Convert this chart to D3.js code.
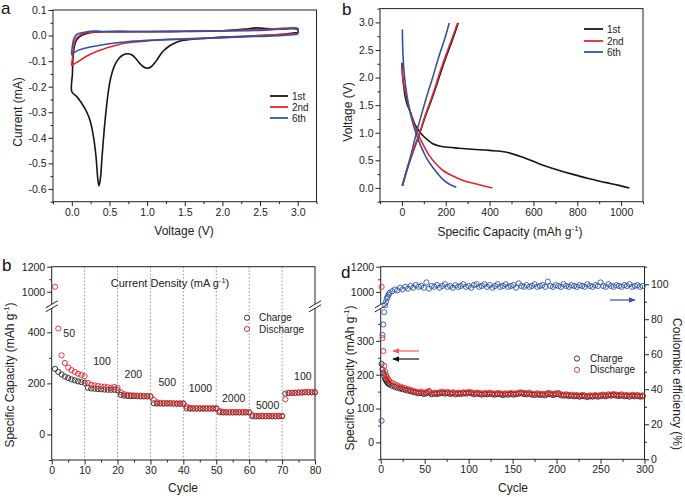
<!DOCTYPE html>
<html><head><meta charset="utf-8">
<script src="https://cdn.jsdelivr.net/npm/d3@7"></script>
<style>body{margin:0;background:#fff} text{font-family:"Liberation Sans",Arial,sans-serif}</style>
</head><body><svg id="c" width="685" height="497"></svg>
<script>
// ---------- Panel a: CV curves (voltage V, current mA) ----------
const cv1 = [[3.0,0.012],[2.8,0.005],[2.5,0.0],[2.2,-0.004],[2.0,-0.006],[1.8,-0.01],[1.6,-0.014],[1.5,-0.018],[1.4,-0.025],[1.3,-0.04],[1.2,-0.065],[1.12,-0.1],[1.05,-0.123],[1.0,-0.128],[0.95,-0.122],[0.9,-0.108],[0.85,-0.09],[0.8,-0.076],[0.74,-0.071],[0.68,-0.076],[0.63,-0.088],[0.58,-0.11],[0.54,-0.14],[0.5,-0.19],[0.46,-0.28],[0.43,-0.37],[0.4,-0.48],[0.38,-0.56],[0.36,-0.588],[0.345,-0.56],[0.32,-0.47],[0.29,-0.4],[0.25,-0.34],[0.2,-0.3],[0.12,-0.26],[0.06,-0.237],[0.0,-0.22],[0.008,-0.15],[0.02,-0.07],[0.05,-0.025],[0.1,-0.005],[0.2,0.008],[0.3,0.013],[0.5,0.015],[1.0,0.015],[1.5,0.016],[2.0,0.019],[2.3,0.025],[2.45,0.03],[2.6,0.027],[2.8,0.025],[3.0,0.028],[3.0,0.012]];
const cv2 = [[3.0,0.008],[2.5,0.0],[2.0,-0.008],[1.5,-0.014],[1.0,-0.021],[0.7,-0.03],[0.5,-0.045],[0.4,-0.055],[0.3,-0.066],[0.2,-0.08],[0.12,-0.095],[0.06,-0.106],[0.02,-0.113],[0.0,-0.117],[0.008,-0.09],[0.02,-0.05],[0.05,-0.015],[0.1,0.0],[0.15,0.008],[0.25,0.013],[0.5,0.016],[1.0,0.016],[1.5,0.017],[2.0,0.019],[2.5,0.023],[3.0,0.025],[3.0,0.008]];
const cv6 = [[3.0,0.005],[2.8,0.0],[2.5,-0.003],[2.0,-0.008],[1.5,-0.013],[1.0,-0.019],[0.7,-0.025],[0.5,-0.032],[0.3,-0.042],[0.2,-0.048],[0.1,-0.056],[0.04,-0.065],[0.0,-0.075],[0.008,-0.04],[0.03,-0.01],[0.07,0.005],[0.15,0.012],[0.28,0.018],[0.4,0.016],[1.0,0.016],[2.0,0.018],[2.5,0.02],[3.0,0.022],[3.0,0.005]];
const cvNames = ["1st","2nd","6th"];

// ---------- Panel b: charge/discharge profiles (capacity mAh/g, voltage V) ----------
const dis1 = [[0,2.27],[3,2.05],[8,1.85],[15,1.65],[25,1.5],[35,1.41],[45,1.3],[58,1.16],[75,1.05],[95,0.95],[120,0.86],[141,0.8],[170,0.76],[201,0.74],[260,0.72],[322,0.7],[400,0.68],[473,0.65],[549,0.56],[625,0.44],[700,0.34],[776,0.25],[850,0.17],[927,0.1],[985,0.05],[1038,0.0]];
const cha1 = [[2,0.04],[25,0.35],[50,0.65],[80,0.98],[107,1.3],[129,1.53],[153,1.8],[175,2.07],[204,2.4],[232,2.7],[257,2.99]];
const dis2 = [[0,2.2],[5,1.95],[12,1.8],[20,1.65],[35,1.42],[50,1.22],[65,1.06],[80,0.92],[100,0.76],[126,0.58],[150,0.46],[186,0.32],[230,0.22],[277,0.14],[340,0.07],[413,0.0]];
const cha2 = [[2,0.04],[25,0.35],[50,0.65],[80,0.98],[105,1.3],[126,1.53],[150,1.8],[171,2.07],[200,2.4],[228,2.7],[254,2.99]];
const dis6 = [[2,2.87],[5,2.4],[12,2.01],[22,1.7],[35,1.41],[50,1.17],[65,0.98],[80,0.82],[95,0.68],[115,0.52],[141,0.37],[165,0.25],[186,0.16],[215,0.07],[248,0.01]];
const cha6 = [[2,0.04],[20,0.3],[40,0.58],[65,0.98],[95,1.41],[118,1.72],[141,2.01],[170,2.4],[195,2.7],[216,2.99]];

// ---------- Panel b (lower left): rate capability ----------
const rateCycles = d3.range(1, 81);
const rateDischarge = [1040,415,310,280,262,252,245,238,233,228,
  202,195,192,190,188,187,185,183,186,183,
  165,158,155,154,153,152,152,151,151,150,
  135,126,124,123,123,123,122,122,122,122,
  110,104,103,103,103,103,103,103,103,103,
  93,89,88,88,88,88,88,88,88,87,
  76,73,73,73,73,73,73,73,73,73,
  138,163,163,164,164,165,166,166,166,165];
const rateCharge = [257,245,235,227,221,216,212,208,205,202,
  183,180,179,178,177,176,175,175,175,173,
  155,152,151,150,150,150,149,149,149,148,
  122,121,121,121,121,121,121,120,120,120,
  102,101,101,101,101,101,101,101,101,101,
  87,86,86,86,86,86,86,86,86,86,
  71,71,71,71,71,71,71,71,71,71,
  160,162,163,163,164,164,165,165,165,165];
const rateLabels = ["50","100","200","500","1000","2000","5000","100"];
const rateLabelCycle = [5.3,15.3,24.8,35.1,45.2,55.3,65.6,76.3];
const rateLabelCap = [396,287,236,205,182,143,115,229];

// ---------- Panel d: long cycling ----------
const longCycles = [1,2,3,4,5,6,7,8,9,10,
  13,16,19,22,25,28,31,34,37,40,
  43,46,49,52,55,58,61,64,67,70,
  73,76,79,82,85,88,91,94,97,100,
  103,106,109,112,115,118,121,124,127,130,
  133,136,139,142,145,148,151,154,157,160,
  163,166,169,172,175,178,181,184,187,190,
  193,196,199,202,205,208,211,214,217,220,
  223,226,229,232,235,238,241,244,247,250,
  253,256,259,262,265,268,271,274,277,280,
  283,286,289,292,295,298];
const longDischarge = [1040,308,270,226,210,200,193,188,184,180,
  176,172,168,165,162,160,157,155,152,150,
  148,150,146,149,152,145,147,146,148,150,
  147,149,146,148,145,147,146,148,147,149,
  148,145,147,146,144,146,145,147,145,144,
  146,145,143,145,144,146,144,145,147,148,
  146,145,147,144,143,145,143,144,142,146,
  145,143,145,146,142,141,142,140,141,139,
  140,138,140,139,137,139,138,140,138,140,
  141,139,142,141,143,141,140,142,139,140,
  138,141,139,140,138,139];
const longCharge = [232,215,205,196,188,183,179,176,173,171,
  167,164,161,159,157,155,153,151,149,147,
  145,146,143,145,148,142,144,143,145,146,
  144,146,143,145,142,144,143,145,144,146,
  145,142,144,143,141,143,142,144,142,141,
  143,142,140,142,141,143,141,142,144,145,
  143,142,144,141,140,142,140,141,139,143,
  142,140,142,143,139,138,139,137,138,136,
  137,135,137,136,134,136,135,137,135,137,
  138,136,139,138,140,138,137,139,136,137,
  135,138,136,137,135,136];
const longCE = [22,71,77,84,88,90,92,93,94,95,
  96,97,96.5,98,97,98.5,97.5,99,98,99.5,
  98.5,99,98,101,97.5,99,98.5,99.5,98,99,
  100,98.5,99,98,99.5,98.5,99,100,98.5,99,
  98,99.5,100,98.5,99,100,98.5,99.5,98,99,
  100,98.5,99,100,98.5,99,99.5,98,100.5,99,
  98.5,99.5,98.5,99,100,98.5,99,99.5,98.5,101.5,
  99,98.5,99.5,99,98.5,100,99,98.5,99.5,99,
  98.5,99.5,99,98.5,100,99,98.5,99.5,99,101,
  99,98.5,100,99,98.5,99.5,99,98.5,99.5,99,
  100,98.5,99,99.5,98.5,99];

// ---------- drawing ----------
const svg = d3.select("#c");
const FONT = "'Liberation Sans', Arial, sans-serif";
const BLACK = "#161616", RED = "#e3262b", BLUE = "#3153a4";
const TICKFS = 10.5, TITLEFS = 12, LEGFS = 10;

function axis(gen, scale, major, minor, fmt, tx, ty){
  const g = svg.append("g").attr("transform", `translate(${tx},${ty})`);
  g.call(gen(scale).tickValues(major).tickSize(4.5).tickPadding(2).tickFormat(fmt));
  g.select(".domain").remove();
  g.selectAll("text").attr("font-size", TICKFS).attr("font-family", FONT).attr("fill", "#222");
  g.selectAll("line").attr("stroke", "#222");
  const m = svg.append("g").attr("transform", `translate(${tx},${ty})`);
  m.call(gen(scale).tickValues(minor).tickSize(2.5).tickFormat(""));
  m.select(".domain").remove();
  m.selectAll("line").attr("stroke", "#222");
}
function frame(x0, x1, y0, y1){
  svg.append("rect").attr("x", x0).attr("y", y1).attr("width", x1 - x0).attr("height", y0 - y1)
    .attr("fill", "none").attr("stroke", "#222").attr("stroke-width", 1);
}
function title(txt, x, y, rot, sup){
  const t = svg.append("text").attr("font-size", TITLEFS).attr("font-family", FONT).attr("fill", "#222")
    .attr("text-anchor", "middle")
    .attr("transform", `translate(${x},${y}) rotate(${rot})`);
  t.append("tspan").text(txt);
  if (sup) {
    t.append("tspan").attr("font-size", 8).attr("dy", -5).text(sup);
    t.append("tspan").attr("dy", 5).text(")");
  }
  return t;
}
function letter(txt, x, y){
  svg.append("text").attr("x", x).attr("y", y).attr("font-size", 17).attr("font-family", FONT).attr("fill", "#111").text(txt);
}
function breakMark(x, y){
  svg.append("polygon").attr("points", `${x-6},${y+5} ${x+6},${y-2} ${x+6},${y-6} ${x-6},${y+1}`).attr("fill", "#fff");
  [0, 4].forEach(d => {
    svg.append("line").attr("x1", x - 6).attr("y1", y + 1 + d).attr("x2", x + 6).attr("y2", y - 6 + d)
      .attr("stroke", "#222").attr("stroke-width", 1);
  });
}
const f1 = d => d.toFixed(1);
const f0 = d => String(d);

// ===== Panel a =====
{
  const L = 53, R = 316.5, T = 10, B = 201.7;
  const x = d3.scaleLinear().domain([-0.25, 3.25]).range([L, R]);
  const y = d3.scaleLinear().domain([-0.65, 0.1]).range([B, T]);
  frame(L, R, B, T);
  axis(d3.axisBottom, x, [0,0.5,1,1.5,2,2.5,3], [-0.25,0.25,0.75,1.25,1.75,2.25,2.75,3.25], f1, 0, B);
  axis(d3.axisLeft, y, [-0.6,-0.5,-0.4,-0.3,-0.2,-0.1,0,0.1], [-0.65,-0.55,-0.45,-0.35,-0.25,-0.15,-0.05,0.05], f1, L, 0);
  const line = d3.line().x(d => x(d[0])).y(d => y(d[1])).curve(d3.curveCatmullRom.alpha(0.5));
  [[cv1, BLACK], [cv2, RED], [cv6, BLUE]].forEach(([d, c]) => {
    svg.append("path").attr("d", line(d)).attr("fill", "none").attr("stroke", c).attr("stroke-width", 1.6);
  });
  const ly = [96, 107, 118];
  [BLACK, RED, BLUE].forEach((c, i) => {
    svg.append("line").attr("x1", 270).attr("x2", 288).attr("y1", ly[i]).attr("y2", ly[i]).attr("stroke", c).attr("stroke-width", 1.8);
    svg.append("text").attr("x", 292).attr("y", ly[i] + 4).attr("font-size", LEGFS).attr("font-family", FONT).attr("fill", "#222").text(cvNames[i]);
  });
  title("Voltage (V)", 184, 235, 0);
  title("Current (mA)", 22, 112, -90);
  letter("a", 1, 14);
}

// ===== Panel b (top right) =====
{
  const L = 380, R = 643, T = 8.6, B = 201.7;
  const x = d3.scaleLinear().domain([-100, 1100]).range([L, R]);
  const y = d3.scaleLinear().domain([-0.25, 3.25]).range([B, T]);
  frame(L, R, B, T);
  axis(d3.axisBottom, x, [0,200,400,600,800,1000], [-100,100,300,500,700,900,1100], f0, 0, B);
  axis(d3.axisLeft, y, [0,0.5,1,1.5,2,2.5,3], [-0.25,0.25,0.75,1.25,1.75,2.25,2.75,3.25], f1, L, 0);
  const lineV = d3.line().x(d => x(d[0])).y(d => y(d[1])).curve(d3.curveCatmullRom.alpha(0.5));
  [[dis1, cha1, BLACK], [dis2, cha2, RED], [dis6, cha6, BLUE]].forEach(([d, ch, c]) => {
    svg.append("path").attr("d", lineV(d)).attr("fill", "none").attr("stroke", c).attr("stroke-width", 1.6);
    svg.append("path").attr("d", lineV(ch)).attr("fill", "none").attr("stroke", c).attr("stroke-width", 1.6);
  });
  const ly = [29, 41, 52];
  [BLACK, RED, BLUE].forEach((c, i) => {
    svg.append("line").attr("x1", 584).attr("x2", 603).attr("y1", ly[i]).attr("y2", ly[i]).attr("stroke", c).attr("stroke-width", 1.8);
    svg.append("text").attr("x", 607).attr("y", ly[i] + 4).attr("font-size", LEGFS).attr("font-family", FONT).attr("fill", "#222").text(cvNames[i]);
  });
  title("Specific Capacity (mAh g", 510, 236, 0, "-1");
  title("Voltage (V)", 352, 112, -90);
  letter("b", 342, 15);
}

// ===== Panel b (lower left): rate =====
{
  const L = 51.7, R = 315, T = 266.7, B = 460, BR = 306.8;
  const x = d3.scaleLinear().domain([0, 80]).range([L, R]);
  const y = d3.scaleLinear().domain([-100, 500, 880, 1200]).range([B, BR, BR, T]);
  [10,20,30,40,50,60,70].forEach(c => {
    svg.append("line").attr("x1", x(c)).attr("x2", x(c)).attr("y1", T).attr("y2", B)
      .attr("stroke", "#777").attr("stroke-width", 0.8).attr("stroke-dasharray", "1.5,2");
  });
  frame(L, R, B, T);
  axis(d3.axisBottom, x, [0,10,20,30,40,50,60,70,80], [5,15,25,35,45,55,65,75], f0, 0, B);
  axis(d3.axisLeft, y, [0,200,400,1000,1200], [-100,100,300,1100], f0, L, 0);
  breakMark(L, BR); breakMark(R, BR);
  const pts = (vals, c) => svg.append("g").selectAll("circle").data(vals).join("circle")
    .attr("cx", (d, i) => x(rateCycles[i])).attr("cy", d => y(d)).attr("r", 2.6)
    .attr("fill", "none").attr("stroke", c).attr("stroke-width", 0.9);
  pts(rateCharge, "#222");
  pts(rateDischarge, RED);
  rateLabels.forEach((t, i) => {
    svg.append("text").attr("x", x(rateLabelCycle[i])).attr("y", y(rateLabelCap[i]) + 4)
      .attr("text-anchor", "middle").attr("font-size", TICKFS).attr("font-family", FONT).attr("fill", "#222").text(t);
  });
  const dens = svg.append("text").attr("x", 170).attr("y", 287).attr("text-anchor", "middle")
    .attr("font-size", 11).attr("font-family", FONT).attr("fill", "#222");
  dens.append("tspan").text("Current Density (mA g");
  dens.append("tspan").attr("font-size", 7.5).attr("dy", -4.5).text("-1");
  dens.append("tspan").attr("dy", 4.5).text(")");
  [["Charge", "#222", 317.7], ["Discharge", RED, 329]].forEach(([t, c, yy]) => {
    svg.append("circle").attr("cx", 247).attr("cy", yy).attr("r", 2.6).attr("fill", "none").attr("stroke", c).attr("stroke-width", 0.9);
    svg.append("text").attr("x", 259).attr("y", yy + 3.7).attr("font-size", LEGFS).attr("font-family", FONT).attr("fill", "#222").text(t);
  });
  title("Cycle", 183, 492, 0);
  title("Specific Capacity (mAh g", 14, 375, -90, "-1");
  letter("b", 2, 271);
}

// ===== Panel d =====
{
  const L = 380.7, R = 644.5, T = 266.7, B = 459.3, BR = 307;
  const x = d3.scaleLinear().domain([0, 300]).range([L, R]);
  const y = d3.scaleLinear().domain([-50, 400, 880, 1200]).range([B, BR, BR, T]);
  const y2 = d3.scaleLinear().domain([0, 110]).range([B, T]);
  frame(L, R, B, T);
  axis(d3.axisBottom, x, [0,50,100,150,200,250,300], [25,75,125,175,225,275], f0, 0, B);
  axis(d3.axisLeft, y, [0,100,200,300,1000,1200], [-50,50,150,250,350,1100], f0, L, 0);
  axis(d3.axisRight, y2, [0,20,40,60,80,100], [10,30,50,70,90,110], f0, R, 0);
  breakMark(L, BR);
  const pts = (vals, sc, c) => svg.append("g").selectAll("circle").data(vals).join("circle")
    .attr("cx", (d, i) => x(longCycles[i])).attr("cy", d => sc(d)).attr("r", 2.6)
    .attr("fill", "none").attr("stroke", c).attr("stroke-width", 0.9);
  pts(longCE, y2, BLUE);
  pts(longCharge, y, "#222");
  pts(longDischarge, y, RED);
  const defs = svg.append("defs");
  [["ab", BLUE], ["ar", "#ee5a5a"], ["ak", "#111"]].forEach(([id, c]) => {
    defs.append("marker").attr("id", id).attr("viewBox", "0 0 10 10").attr("refX", 9).attr("refY", 5)
      .attr("markerWidth", 6).attr("markerHeight", 6).attr("orient", "auto")
      .append("path").attr("d", "M0,1 L10,5 L0,9 Z").attr("fill", c);
  });
  svg.append("line").attr("x1", 610).attr("x2", 635).attr("y1", 300).attr("y2", 300).attr("stroke", BLUE).attr("stroke-width", 1.2).attr("marker-end", "url(#ab)");
  svg.append("line").attr("x1", 419).attr("x2", 393).attr("y1", 351).attr("y2", 351).attr("stroke", "#ee5a5a").attr("stroke-width", 1.2).attr("marker-end", "url(#ar)");
  svg.append("line").attr("x1", 419).attr("x2", 393).attr("y1", 359).attr("y2", 359).attr("stroke", "#111").attr("stroke-width", 1.2).attr("marker-end", "url(#ak)");
  [["Charge", "#222", 358.5], ["Discharge", RED, 369.8]].forEach(([t, c, yy]) => {
    svg.append("circle").attr("cx", 577).attr("cy", yy).attr("r", 2.6).attr("fill", "none").attr("stroke", c).attr("stroke-width", 0.9);
    svg.append("text").attr("x", 590).attr("y", yy + 3.5).attr("font-size", LEGFS).attr("font-family", FONT).attr("fill", "#222").text(t);
  });
  title("Cycle", 513, 492, 0);
  title("Specific Capacity (mAh g", 354, 378, -90, "-1");
  title("Coulombic efficiency (%)", 673, 384, 90);
  letter("d", 341, 278);
}
</script></body></html>
